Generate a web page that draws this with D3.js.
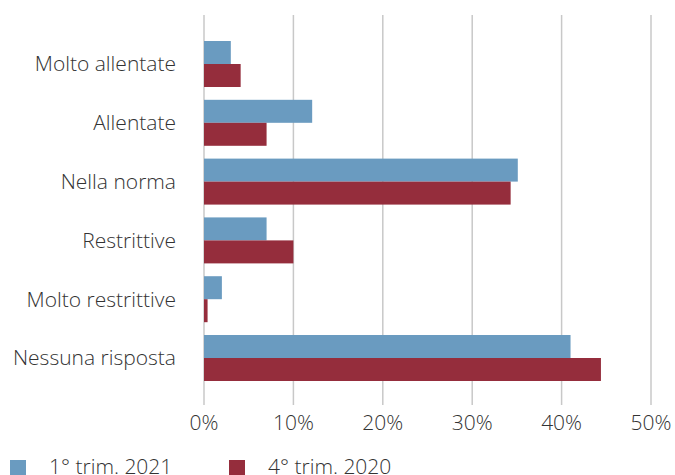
<!DOCTYPE html>
<html>
<head>
<meta charset="utf-8">
<script src="https://cdn.jsdelivr.net/npm/d3@7"></script>
<style>
  body { margin: 0; background: #fff; }
  text { font-family: "Open Sans", "Liberation Sans", sans-serif; font-weight: 300; fill: #333; }
</style>
</head>
<body>
<script>
// categories and values (percent)
var categories = ['Molto allentate', 'Allentate', 'Nella norma', 'Restrittive', 'Molto restrittive', 'Nessuna risposta'];
var q1_2021 = [3.0, 12.1, 35.1, 7.0, 2.0, 41.0];
var q4_2020 = [4.1, 7.0, 34.3, 10.0, 0.4, 44.4];
var seriesNames = ['1° trim. 2021', '4° trim. 2020'];
var seriesColors = ['#6a9bc0', '#952d3c'];
var xTicks = [0, 10, 20, 30, 40, 50];

var width = 675, height = 475;

var svg = d3.select('body')
  .append('svg')
  .attr('width', width)
  .attr('height', height);

var x = d3.scaleLinear().domain([0, 50]).range([204, 651]);

var y = d3.scaleBand()
  .domain(categories)
  .range([34.6, 387.4])
  .paddingInner(0.218)
  .paddingOuter(0.109);

var ySub = d3.scaleBand()
  .domain([0, 1])
  .range([0, y.bandwidth()]);

// gridlines
svg.append('g')
  .selectAll('line')
  .data(xTicks)
  .join('line')
  .attr('x1', d => x(d))
  .attr('x2', d => x(d))
  .attr('y1', 15)
  .attr('y2', 405)
  .attr('stroke', '#c8c8c8')
  .attr('stroke-width', 1.5);

// bars
var rows = categories.map((c, i) => ({ cat: c, vals: [q1_2021[i], q4_2020[i]] }));

var group = svg.append('g')
  .selectAll('g')
  .data(rows)
  .join('g')
  .attr('transform', d => 'translate(0,' + y(d.cat) + ')');

group.selectAll('rect')
  .data(d => d.vals.map((v, k) => ({ v: v, k: k })))
  .join('rect')
  .attr('x', x(0))
  .attr('y', d => ySub(d.k))
  .attr('width', d => x(d.v) - x(0))
  .attr('height', ySub.bandwidth())
  .attr('fill', d => seriesColors[d.k]);

// category labels
svg.append('g')
  .selectAll('text')
  .data(categories)
  .join('text')
  .attr('x', 176)
  .attr('y', d => y(d) + y.bandwidth() / 2)
  .attr('dy', '0.35em')
  .attr('text-anchor', 'end')
  .style('font-size', '21px')
  .text(d => d);

// x tick labels
svg.append('g')
  .selectAll('text')
  .data(xTicks)
  .join('text')
  .attr('x', d => x(d))
  .attr('y', 430)
  .attr('text-anchor', 'middle')
  .style('font-size', '21px')
  .text(d => d + '%');

// legend
var legendX = [10, 229];
var legend = svg.append('g')
  .selectAll('g')
  .data(seriesNames)
  .join('g')
  .attr('transform', (d, i) => 'translate(' + legendX[i] + ',0)');

legend.append('rect')
  .attr('x', 0)
  .attr('y', 460)
  .attr('width', 16)
  .attr('height', 16)
  .attr('fill', (d, i) => seriesColors[i]);

legend.append('text')
  .attr('x', 39)
  .attr('y', 474)
  .style('font-size', '21px')
  .text(d => d);
</script>
</body>
</html>
